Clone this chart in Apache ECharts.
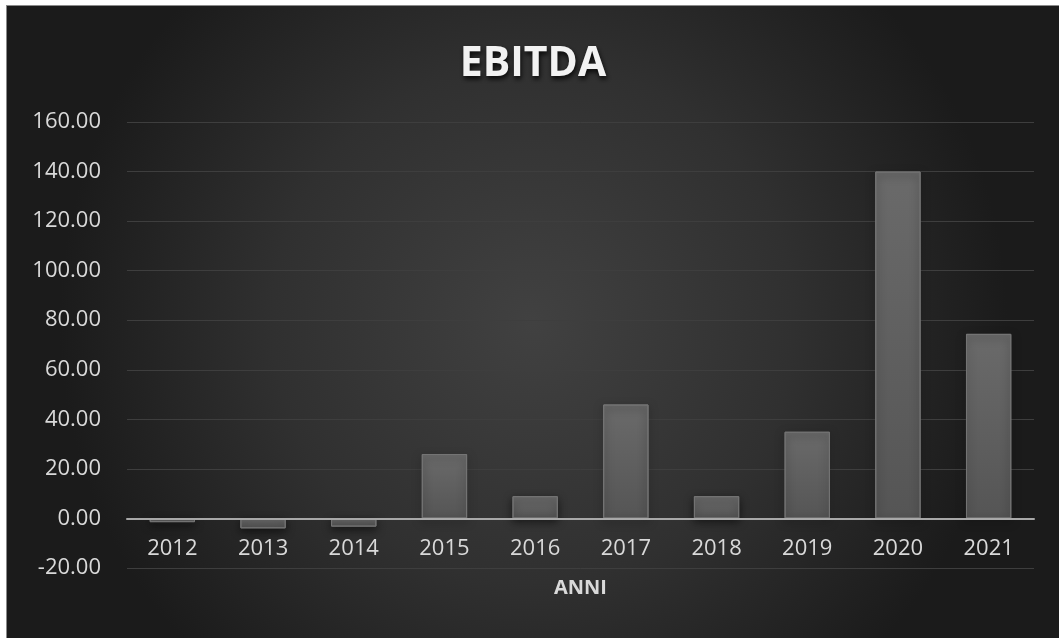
<!DOCTYPE html>
<html>
<head>
<meta charset="utf-8">
<title>EBITDA</title>
<script src="https://cdn.jsdelivr.net/npm/echarts@6/dist/echarts.min.js"></script>
<style>
  html, body { margin: 0; padding: 0; background: #ffffff; }
  #frame {
    position: absolute; left: 6px; top: 5px; width: 1053px; height: 633px;
    border-top: 1px solid #8a8a8a; border-left: 1px solid #8a8a8a;
    box-sizing: border-box;
  }
  #chart { width: 100%; height: 100%; }
</style>
</head>
<body>
<div id="frame"><div id="chart"></div></div>
<script>
// EBITDA per year
const years = ['2012', '2013', '2014', '2015', '2016', '2017', '2018', '2019', '2020', '2021'];
const ebitda = [-1.5, -4.0, -3.3, 26.0, 9.0, 46.0, 9.0, 35.0, 140.0, 74.5];
const yTicks = { min: -20, max: 160, step: 20 };

const chart = echarts.init(document.getElementById('chart'));

const labelFont = '"Open Sans", "Noto Sans", sans-serif';

chart.setOption({
  backgroundColor: {
    type: 'radial', x: 0.5, y: 0.5, r: 0.75,
    colorStops: [
      { offset: 0, color: '#414141' },
      { offset: 0.55, color: '#303030' },
      { offset: 1, color: '#1b1b1b' }
    ]
  },
  title: {
    text: 'EBITDA',
    left: 'center',
    top: 33,
    textStyle: {
      color: '#f2f2f2',
      fontFamily: labelFont,
      fontWeight: 'bold',
      fontSize: 41,
      textShadowColor: 'rgba(0,0,0,0.85)',
      textShadowBlur: 5,
      textShadowOffsetX: 1,
      textShadowOffsetY: 3
    }
  },
  grid: { left: 120, right: 25, top: 116, bottom: 70, containLabel: false, outerBoundsMode: 'none' },
  xAxis: {
    type: 'category',
    data: years,
    name: 'ANNI',
    nameLocation: 'middle',
    nameGap: 60,
    nameTextStyle: { color: '#d9d9d9', fontFamily: labelFont, fontWeight: 'bold', fontSize: 20 },
    axisLine: { onZero: false, lineStyle: { color: '#a8a8a8', width: 2 } },
    axisTick: { show: false },
    axisLabel: { color: '#d9d9d9', fontFamily: labelFont, fontSize: 22, margin: 19 },
    splitLine: { show: false },
    z: 4
  },
  yAxis: {
    type: 'value',
    min: yTicks.min,
    max: yTicks.max,
    interval: yTicks.step,
    axisLine: { show: false },
    axisTick: { show: false },
    axisLabel: {
      color: '#d9d9d9', fontFamily: labelFont, fontSize: 22, margin: 26,
      formatter: v => v.toFixed(2)
    },
    splitLine: { lineStyle: { color: '#3e3e3e', width: 1 } }
  },
  series: [{
    type: 'bar',
    data: ebitda,
    barWidth: '50%',
    itemStyle: {
      color: {
        type: 'linear', x: 0, y: 0, x2: 0, y2: 1,
        colorStops: [
          { offset: 0, color: '#6a6a6a' },
          { offset: 1, color: '#555555' }
        ]
      },
      borderColor: '#747474',
      borderWidth: 1,
      shadowColor: 'rgba(0,0,0,0.55)',
      shadowBlur: 8,
      shadowOffsetY: 3
    },
    z: 3
  }]
});

// Lift the category axis (line, labels and name) up to the zero line.
const yZero = chart.convertToPixel({ yAxisIndex: 0 }, 0);
const yBottom = chart.convertToPixel({ yAxisIndex: 0 }, yTicks.min);
chart.setOption({ xAxis: { offset: yZero - yBottom } });
</script>
</body>
</html>
